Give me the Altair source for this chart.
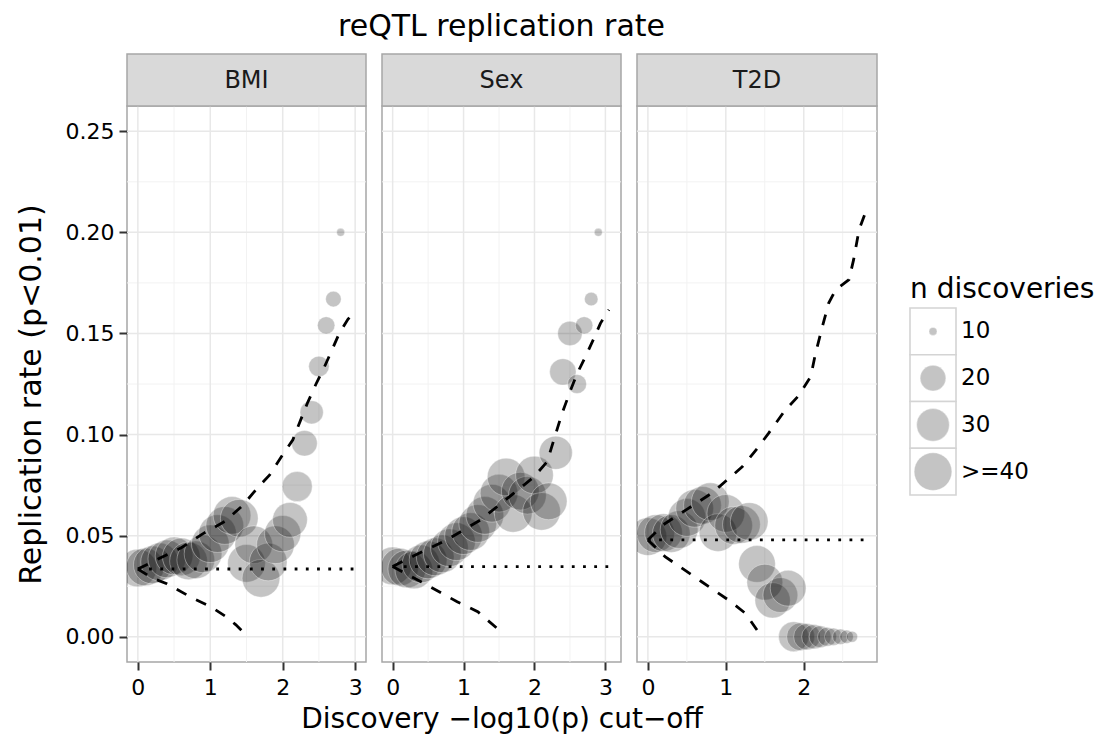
import altair as alt
import pandas as pd

FONT = "DejaVu Sans"

# ---------------- data ----------------
PANELS = ["BMI", "Sex", "T2D"]

BMI_X = [0.0, 0.1, 0.2, 0.3, 0.4, 0.5, 0.6, 0.7, 0.8, 0.9, 1.0, 1.1, 1.2, 1.3, 1.4,
         1.5, 1.6, 1.7, 1.8, 1.9, 2.0, 2.1, 2.2, 2.3, 2.4, 2.5, 2.6, 2.7, 2.8]
BMI_Y = [0.0340, 0.0345, 0.0355, 0.0370, 0.0385, 0.0400, 0.0395, 0.0375, 0.0380, 0.0410,
         0.0460, 0.0510, 0.0550, 0.0600, 0.0586, 0.0363, 0.0455, 0.0289, 0.0370, 0.0455,
         0.0510, 0.0578, 0.0743, 0.0957, 0.1110, 0.1337, 0.1540, 0.1670, 0.2000]
BMI_N = [40, 40, 40, 40, 40, 40, 40, 40, 40, 40, 40, 40, 40, 40, 40, 40, 40, 40, 40, 40,
         37, 34, 26, 20, 18, 16, 14, 13, 10]
BMI_UP_X = [0.0, 0.3, 0.6, 0.9, 1.2, 1.45, 1.66, 1.82, 2.0, 2.14, 2.23, 2.34, 2.46, 2.57,
            2.67, 2.78, 2.9, 3.0]
BMI_UP_Y = [0.0335, 0.0388, 0.0440, 0.0510, 0.0570, 0.0650, 0.0740, 0.0800, 0.0900, 0.0974,
            0.1056, 0.1155, 0.1250, 0.1330, 0.1410, 0.1500, 0.1570, 0.1610]
BMI_LO_X = [0.0, 0.2, 0.4, 0.76, 1.0, 1.22, 1.35, 1.47]
BMI_LO_Y = [0.0335, 0.0290, 0.0262, 0.0190, 0.0150, 0.0099, 0.0060, 0.0017]
BMI_NULL_X = [0.0, 3.0]
BMI_NULL_Y = [0.0335, 0.0335]

SEX_X = [0.0, 0.1, 0.2, 0.3, 0.4, 0.5, 0.6, 0.7, 0.8, 0.9, 1.0, 1.1, 1.2, 1.3, 1.4,
         1.5, 1.6, 1.7, 1.8, 1.9, 2.0, 2.1, 2.2, 2.3, 2.4, 2.5, 2.6, 2.7, 2.8, 2.9]
SEX_Y = [0.0350, 0.0345, 0.0335, 0.0330, 0.0360, 0.0380, 0.0395, 0.0410, 0.0440, 0.0470,
         0.0500, 0.0520, 0.0560, 0.0600, 0.0660, 0.0710, 0.0790, 0.0610, 0.0720, 0.0700,
         0.0800, 0.0620, 0.0670, 0.0910, 0.1310, 0.1500, 0.1250, 0.1540, 0.1670, 0.2000]
SEX_N = [40, 40, 40, 40, 40, 40, 40, 40, 40, 40, 40, 40, 40, 40, 40, 40, 40, 40, 40, 40,
         40, 40, 38, 31, 21, 19, 15, 14, 12, 10]
SEX_UP_X = [0.0, 0.3, 0.77, 1.24, 1.71, 1.99, 2.18, 2.27, 2.39, 2.51, 2.6, 2.72, 2.84, 2.93, 3.05]
SEX_UP_Y = [0.0347, 0.0400, 0.0480, 0.0578, 0.0710, 0.0790, 0.0866, 0.0970, 0.1106, 0.1220,
            0.1300, 0.1386, 0.1477, 0.1550, 0.1617]
SEX_LO_X = [0.0, 0.4, 0.91, 1.2, 1.5]
SEX_LO_Y = [0.0347, 0.0272, 0.0173, 0.0124, 0.0033]
SEX_NULL_X = [0.0, 3.07]
SEX_NULL_Y = [0.0347, 0.0347]

T2D_X = [0.0, 0.1, 0.2, 0.3, 0.4, 0.5, 0.6, 0.7, 0.8, 0.9, 1.0, 1.1, 1.2, 1.3, 1.4,
         1.5, 1.6, 1.7, 1.8, 1.87, 1.96, 2.04, 2.13, 2.21, 2.30, 2.38, 2.47, 2.55, 2.62]
T2D_Y = [0.0495, 0.0510, 0.0515, 0.0510, 0.0530, 0.0590, 0.0635, 0.0650, 0.0668, 0.0515,
         0.0610, 0.0550, 0.0555, 0.0570, 0.0360, 0.0270, 0.0180, 0.0206, 0.0240,
         0.0, 0.0, 0.0, 0.0, 0.0, 0.0, 0.0, 0.0, 0.0, 0.0]
T2D_N = [40, 40, 40, 40, 40, 40, 40, 40, 40, 40, 40, 40, 40, 40, 38, 36, 35, 34, 36,
         26, 23, 21, 19, 17, 15, 14, 13, 12, 11]
T2D_UP_X = [0.0, 0.2, 0.5, 0.82, 1.0, 1.21, 1.4, 1.55, 1.76, 1.93, 2.09, 2.15, 2.24, 2.32,
            2.41, 2.58, 2.64, 2.71, 2.79]
T2D_UP_Y = [0.0479, 0.0555, 0.0630, 0.0710, 0.0770, 0.0840, 0.0930, 0.1007, 0.1120, 0.1190,
            0.1287, 0.1400, 0.1535, 0.1650, 0.1716, 0.1766, 0.1865, 0.2013, 0.2096]
T2D_LO_X = [0.0, 0.22, 0.69, 1.04, 1.25, 1.4]
T2D_LO_Y = [0.0479, 0.0396, 0.0272, 0.0180, 0.0116, 0.0033]
T2D_NULL_X = [0.0, 2.79]
T2D_NULL_Y = [0.0479, 0.0479]

Y_TICKS = [0.0, 0.05, 0.10, 0.15, 0.20, 0.25]
Y_MINOR = [0.025, 0.075, 0.125, 0.175, 0.225]
X_TICKS_3 = [0, 1, 2, 3]
X_TICKS_2 = [0, 1, 2]
X_MINOR = [0.5, 1.5, 2.5]

LEGEND_N = [10, 20, 30, 40]
LEGEND_LABELS = ["10", "20", "30", ">=40"]

TITLE = "reQTL replication rate"
X_TITLE = "Discovery \u2212log10(p) cut\u2212off"
Y_TITLE = "Replication rate (p<0.01)"
LEGEND_TITLE = "n discoveries"

# ---------------- styling ----------------
PANEL_H = 556
STRIP_H = 52
SIZE_SCALE = alt.Scale(domain=[10, 20, 30, 40], range=[64, 660, 1069, 1421])
Y_SCALE = alt.Scale(domain=[-0.0125, 0.2625], nice=False, zero=False)


def make_panel(name, px, py, pn, ux, uy, lx, ly, nx, ny, xdom, xticks, width,
               first=False, xtitle=None, title=None):
    xs = alt.Scale(domain=xdom, nice=False, zero=False)
    xaxis_kw = dict(values=xticks, grid=False, domain=False, tickColor="#333333",
                    tickWidth=2, tickSize=8, labelFontSize=22, labelColor="black",
                    labelPadding=7, labelFlush=False, format="d")
    if xtitle is not None:
        xaxis_kw.update(title=xtitle, titleFontSize=28, titlePadding=7,
                        titleFontWeight="normal", titleColor="black")
    else:
        xaxis_kw.update(title="")
    X = alt.X("x:Q", scale=xs, axis=alt.Axis(**xaxis_kw))
    if first:
        yaxis = alt.Axis(values=Y_TICKS, grid=False, domain=False, tickColor="#333333",
                         tickWidth=2, tickSize=8, labelFontSize=22, labelColor="black",
                         labelPadding=5, format=".2f", title=Y_TITLE, titleFontSize=30,
                         titlePadding=19, titleFontWeight="normal", titleColor="black",
                         titleY=PANEL_H / 2 + 10, labelFlush=False)
        Y = alt.Y("y:Q", scale=Y_SCALE, axis=yaxis)
    else:
        Y = alt.Y("y:Q", scale=Y_SCALE, axis=None)

    xminor = [v for v in X_MINOR if xdom[0] < v < xdom[1]]
    gx_minor = alt.Chart(pd.DataFrame({"x": xminor})).mark_rule(
        color="#f2f2f2", strokeWidth=1).encode(x=X)
    gy_minor = alt.Chart(pd.DataFrame({"y": Y_MINOR})).mark_rule(
        color="#f2f2f2", strokeWidth=1).encode(y=Y)
    gx_major = alt.Chart(pd.DataFrame({"x": xticks})).mark_rule(
        color="#e8e8e8", strokeWidth=1.5).encode(x=X)
    gy_major = alt.Chart(pd.DataFrame({"y": Y_TICKS})).mark_rule(
        color="#e8e8e8", strokeWidth=1.5).encode(y=Y)

    pts = alt.Chart(pd.DataFrame({"x": px, "y": py, "n": pn})).mark_circle(
        clip=True, fill="black", fillOpacity=0.23, stroke="white",
        strokeOpacity=0.45, strokeWidth=0.8).encode(
        x=X, y=Y, size=alt.Size("n:Q", scale=SIZE_SCALE, legend=None))

    bounds_df = pd.DataFrame({
        "x": list(ux) + list(lx),
        "y": list(uy) + list(ly),
        "kind": ["upper"] * len(ux) + ["lower"] * len(lx),
    })
    dashed = alt.Chart(bounds_df).mark_line(
        clip=True, color="black", strokeWidth=2.8, strokeDash=[11, 11]).encode(
        x=X, y=Y, detail="kind:N")
    dotted = alt.Chart(pd.DataFrame({"x": nx, "y": ny})).mark_line(
        clip=True, color="black", strokeWidth=2.8, strokeDash=[2.8, 8.4]).encode(x=X, y=Y)

    strip_df = pd.DataFrame({"panel": [name]})
    strip = alt.Chart(strip_df).mark_rect(
        fill="#d9d9d9", stroke="#a6a6a6", strokeWidth=1.5).encode(
        x=alt.value(0), x2=alt.value(width), y=alt.value(-STRIP_H), y2=alt.value(0))
    strip_txt = alt.Chart(strip_df).mark_text(
        fontSize=24, color="#1a1a1a", baseline="middle", align="center").encode(
        x=alt.value(width / 2), y=alt.value(-STRIP_H / 2 + 1), text="panel:N")

    layer = alt.layer(gx_minor, gy_minor, gx_major, gy_major, pts, dashed, dotted,
                      strip, strip_txt)
    props = dict(width=width, height=PANEL_H)
    if title is not None:
        props["title"] = alt.TitleParams(title, fontSize=30, anchor="middle",
                                         fontWeight="normal", color="black", offset=11)
    return layer.properties(**props)


bmi = make_panel("BMI", BMI_X, BMI_Y, BMI_N, BMI_UP_X, BMI_UP_Y, BMI_LO_X, BMI_LO_Y,
                 BMI_NULL_X, BMI_NULL_Y, [-0.15, 3.15], X_TICKS_3, 239, first=True)
sex = make_panel("Sex", SEX_X, SEX_Y, SEX_N, SEX_UP_X, SEX_UP_Y, SEX_LO_X, SEX_LO_Y,
                 SEX_NULL_X, SEX_NULL_Y, [-0.15, 3.22], X_TICKS_3, 239,
                 xtitle=X_TITLE, title=TITLE)
t2d = make_panel("T2D", T2D_X, T2D_Y, T2D_N, T2D_UP_X, T2D_UP_Y, T2D_LO_X, T2D_LO_Y,
                 T2D_NULL_X, T2D_NULL_Y, [-0.14, 2.94], X_TICKS_2, 240)

# ---------------- custom legend ----------------
leg_df = pd.DataFrame({"lab": LEGEND_LABELS, "n": LEGEND_N})
LY = alt.Y("lab:N", sort=LEGEND_LABELS, axis=None,
           scale=alt.Scale(domain=LEGEND_LABELS, range=[202, 389],
                           paddingInner=0, paddingOuter=0))
leg_box = alt.Chart(leg_df).mark_rect(fill="white", stroke="#d4d4d4", strokeWidth=1.6).encode(
    x=alt.value(17), x2=alt.value(63), y=LY)
leg_pt = alt.Chart(leg_df).mark_circle(
    fill="black", fillOpacity=0.23, stroke="white", strokeOpacity=0.45,
    strokeWidth=0.8).encode(
    x=alt.value(40), y=LY, size=alt.Size("n:Q", scale=SIZE_SCALE, legend=None))
leg_txt = alt.Chart(leg_df).mark_text(
    fontSize=23, color="black", align="left", baseline="middle").encode(
    x=alt.value(68), y=LY, text="lab:N")
leg_title = alt.Chart(pd.DataFrame({"t": [LEGEND_TITLE]})).mark_text(
    fontSize=28, color="black", align="left", baseline="alphabetic").encode(
    x=alt.value(17), y=alt.value(192), text="t:N")
legend = alt.layer(leg_box, leg_pt, leg_txt, leg_title).properties(
    width=200, height=PANEL_H, view=alt.ViewBackground(strokeOpacity=0))

chart = alt.hconcat(bmi, sex, t2d, legend, spacing=16, bounds="flush").resolve_scale(
    x="independent", y="independent", size="independent"
).properties(
    padding={"left": 7, "top": 3, "right": 5, "bottom": 0}
).configure(
    font=FONT
).configure_view(
    stroke="#a6a6a6", strokeWidth=1.5
)

chart.save("out.html", embed_options={"renderer": "svg", "actions": False})
